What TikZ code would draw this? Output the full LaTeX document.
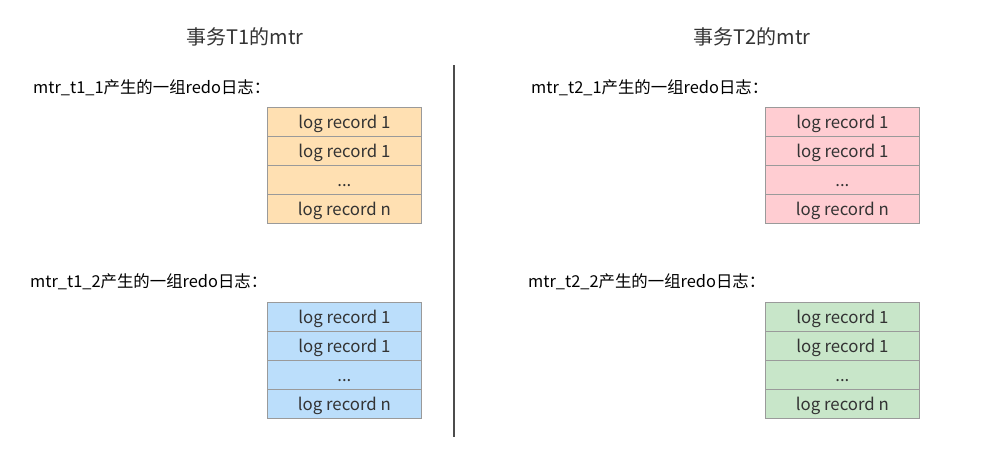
\documentclass[tikz,border=0pt]{standalone}
\usepackage{fontspec}
\setmainfont{Noto Sans CJK SC}
\definecolor{cOrange}{HTML}{FFE0B2}
\definecolor{cPink}{HTML}{FFCDD2}
\definecolor{cBlue}{HTML}{BBDEFB}
\definecolor{cGreen}{HTML}{C8E6C9}
\definecolor{cStroke}{HTML}{9A9A9A}
\definecolor{cText}{HTML}{333333}
\tikzset{
  rowbox/.style={draw=cStroke, line width=0.8pt, minimum width=154pt, minimum height=29pt, inner sep=0pt, text height=15pt, text depth=2pt, anchor=north west, font=\fontsize{16.8}{16.8}\selectfont, text=cText},
  lbl/.style={anchor=west, inner sep=0pt, font=\fontsize{16.4}{16.4}\selectfont, text=black},
  ttl/.style={inner sep=0pt, font=\fontsize{20}{20}\selectfont, text=cText}
}
\begin{document}
\begin{tikzpicture}[x=1pt,y=-1pt]
\useasboundingbox (0,0) rectangle (999,450);
\node[ttl] (t1) at (245,37) {事务T1的mtr};
\node[ttl] (t2) at (752,37) {事务T2的mtr};
\coordinate (lt) at (454,65);
\coordinate (lb) at (454,437);
\draw[line width=1.2pt, color=black!70] (lt) -- (lb);
\node[lbl] (l11) at (33,88) {mtr\_t1\_1产生的一组redo日志：};
\node[lbl] (l12) at (30,282) {mtr\_t1\_2产生的一组redo日志：};
\node[lbl] (l21) at (531,88) {mtr\_t2\_1产生的一组redo日志：};
\node[lbl] (l22) at (528,282) {mtr\_t2\_2产生的一组redo日志：};
% left top
\node[rowbox, fill=cOrange] (a1) at (267,107) {log record 1};
\node[rowbox, fill=cOrange] (a2) at (267,136) {log record 1};
\node[rowbox, fill=cOrange] (a3) at (267,165) {...};
\node[rowbox, fill=cOrange] (a4) at (267,194) {log record n};
% left bottom
\node[rowbox, fill=cBlue] (b1) at (267,302) {log record 1};
\node[rowbox, fill=cBlue] (b2) at (267,331) {log record 1};
\node[rowbox, fill=cBlue] (b3) at (267,360) {...};
\node[rowbox, fill=cBlue] (b4) at (267,389) {log record n};
% right top
\node[rowbox, fill=cPink] (c1) at (765,107) {log record 1};
\node[rowbox, fill=cPink] (c2) at (765,136) {log record 1};
\node[rowbox, fill=cPink] (c3) at (765,165) {...};
\node[rowbox, fill=cPink] (c4) at (765,194) {log record n};
% right bottom
\node[rowbox, fill=cGreen] (d1) at (765,302) {log record 1};
\node[rowbox, fill=cGreen] (d2) at (765,331) {log record 1};
\node[rowbox, fill=cGreen] (d3) at (765,360) {...};
\node[rowbox, fill=cGreen] (d4) at (765,389) {log record n};
\end{tikzpicture}
\end{document}
